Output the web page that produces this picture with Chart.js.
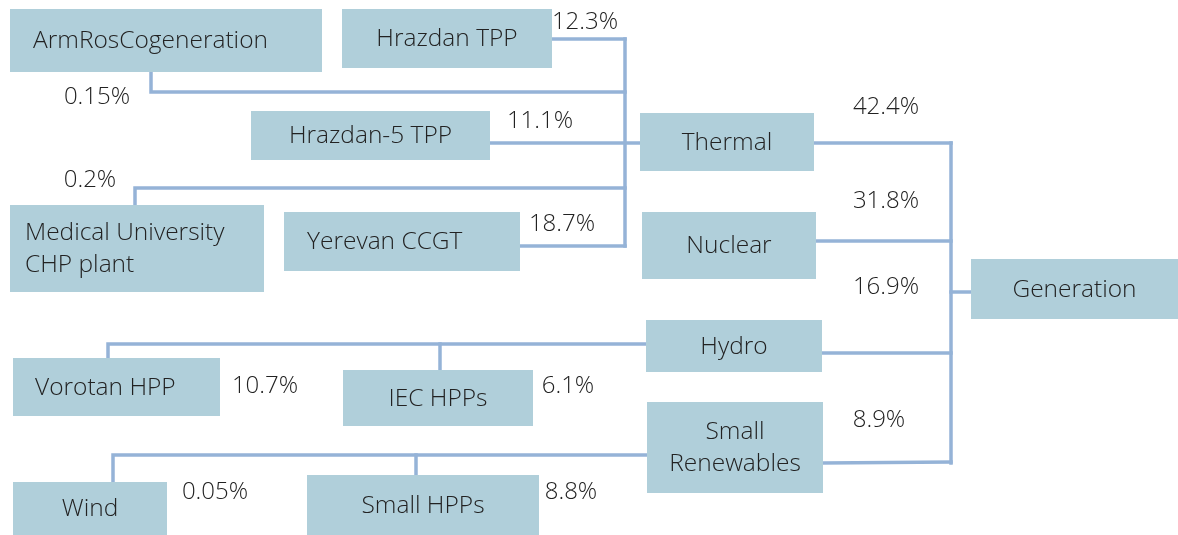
<!DOCTYPE html>
<html>
<head>
<meta charset="utf-8">
<script src="https://cdn.jsdelivr.net/npm/chart.js@4.4.0/dist/chart.umd.min.js"></script>
<style>
  html, body { margin: 0; padding: 0; background: #fff; }
  #wrap { width: 1178px; height: 535px; }
</style>
</head>
<body>
<div id="wrap"><canvas id="tree" width="1178" height="535"></canvas></div>
<script>
// 노드 이름과 비중 (%)
const nodeNames = [
  "Generation", "Thermal", "Nuclear", "Hydro", "Small\nRenewables",
  "ArmRosCogeneration", "Hrazdan TPP", "Hrazdan-5 TPP", "Medical University\nCHP plant", "Yerevan CCGT",
  "Vorotan HPP", "IEC HPPs", "Wind", "Small HPPs"
];
const shareLabels = [
  "", "42.4%", "31.8%", "16.9%", "8.9%",
  "0.15%", "12.3%", "11.1%", "0.2%", "18.7%",
  "10.7%", "6.1%", "0.05%", "8.8%"
];
const parentIndex = [-1, 0, 0, 0, 0, 1, 1, 1, 1, 1, 3, 3, 4, 4];

// 레이아웃 (박스 위치, 라벨 위치, 연결선 경로)
const boxes = [
  [971, 259, 1178, 319], [640, 113, 814, 171], [642, 212, 816, 279], [646, 320, 822, 372], [647, 402, 823, 493],
  [10, 9, 322, 72], [342, 9, 552, 68], [251, 111, 490, 160], [10, 205, 264, 292], [284, 212, 520, 271],
  [13, 358, 220, 416], [343, 370, 533, 426], [13, 482, 167, 535], [307, 475, 539, 535]
];
// 왼쪽 정렬 박스의 들여쓰기 (null 이면 가운데 정렬)
const textIndent = [null, null, null, null, null,
  23, null, null, 15, 23,
  22, null, null, null];
const labelPos = [
  null, [886, 107], [886, 201], [886, 287], [879, 420],
  [97, 97], [585, 22], [540, 121], [90, 180], [562, 224],
  [265, 386], [568, 386], [215, 492], [571, 492]
];
const edgePaths = [
  null,
  [[814, 143], [951, 143]],
  [[816, 241], [951, 241]],
  [[822, 353], [951, 353]],
  [[823, 463], [951, 462]],
  [[151, 72], [151, 92], [625, 92]],
  [[552, 39], [625, 39]],
  [[490, 143], [640, 143]],
  [[135, 205], [135, 188], [625, 188]],
  [[520, 246], [625, 246]],
  [[108, 358], [108, 344], [646, 344]],
  [[440, 370], [440, 344]],
  [[113, 482], [113, 455], [647, 455]],
  [[416, 475], [416, 455]]
];
// 버스 (세로선)
const busPaths = [
  [[625, 39], [625, 246]],
  [[951, 143], [951, 463]],
  [[951, 292], [971, 292]]
];

const lineColor = "#95b3d7";
const boxColor = "#b0cfda";
const textColor = "#222222";

const datasets = [];
edgePaths.concat(busPaths).forEach((p) => {
  if (!p) return;
  datasets.push({
    type: "line",
    data: p.map((pt) => ({ x: pt[0], y: pt[1] })),
    borderColor: lineColor,
    borderWidth: 3.5,
    pointRadius: 0,
    fill: false,
    tension: 0,
    borderCapStyle: "square",
    borderJoinStyle: "miter",
  });
});

// 박스와 텍스트를 그리는 플러그인
const boxPlugin = {
  id: "boxes",
  afterDatasetsDraw(chart) {
    const ctx = chart.ctx;
    const xs = chart.scales.x;
    const ys = chart.scales.y;
    ctx.save();
    boxes.forEach((b, i) => {
      const x0 = xs.getPixelForValue(b[0]);
      const y0 = ys.getPixelForValue(b[1]);
      const x1 = xs.getPixelForValue(b[2]);
      const y1 = ys.getPixelForValue(b[3]);
      ctx.fillStyle = boxColor;
      ctx.fillRect(x0, y0, x1 - x0, y1 - y0);

      const lines = nodeNames[i].split("\n");
      ctx.fillStyle = textColor;
      ctx.font = "300 24.5px 'Open Sans', sans-serif";
      ctx.textBaseline = "middle";
      const lh = 32;
      const cy = (y0 + y1) / 2 + 1 - ((lines.length - 1) * lh) / 2;
      lines.forEach((t, k) => {
        if (textIndent[i] !== null) {
          ctx.textAlign = "left";
          ctx.fillText(t, x0 + textIndent[i], cy + k * lh);
        } else {
          ctx.textAlign = "center";
          ctx.fillText(t, (x0 + x1) / 2, cy + k * lh);
        }
      });
    });
    // 비중 라벨
    ctx.font = "300 24px 'Open Sans', sans-serif";
    ctx.textAlign = "center";
    ctx.textBaseline = "middle";
    shareLabels.forEach((s, i) => {
      if (!s || !labelPos[i]) return;
      ctx.fillText(s, xs.getPixelForValue(labelPos[i][0]), ys.getPixelForValue(labelPos[i][1]));
    });
    ctx.restore();
  },
};

new Chart(document.getElementById("tree"), {
  type: "scatter",
  data: { datasets: datasets },
  options: {
    responsive: false,
    animation: false,
    layout: { padding: 0 },
    plugins: { legend: { display: false }, tooltip: { enabled: false } },
    scales: {
      x: { type: "linear", min: 0, max: 1178, display: false },
      y: { type: "linear", min: 0, max: 535, reverse: true, display: false },
    },
  },
  plugins: [boxPlugin],
});
</script>
</body>
</html>
